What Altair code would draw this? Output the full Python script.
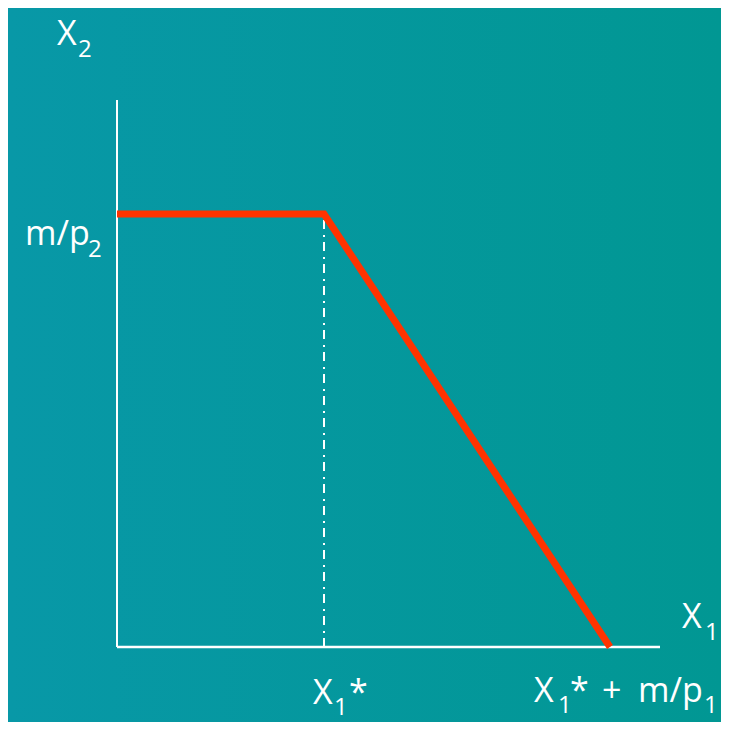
import altair as alt
import pandas as pd

# ---- data (abstract budget-set units) ----
X1_STAR = 207          # X1*
X1_MAX = 493           # X1* + m/p1
M_P2 = 433             # m/p2
AXIS_X_END = 543
AXIS_Y_END = 547

budget_x = [0, X1_STAR, X1_MAX]
budget_y = [M_P2, M_P2, 0]

W, H = 713, 714
XMIN = -109
YMIN = -75

xs = alt.Scale(domain=[XMIN, XMIN + W], nice=False, zero=False)
ys = alt.Scale(domain=[YMIN, YMIN + H], nice=False, zero=False)

FONT = "Open Sans"
WHITE = "#ffffff"
RED = "#ff3300"

def X(field="x"):
    return alt.X(f"{field}:Q", scale=xs, axis=None)

def Y(field="y"):
    return alt.Y(f"{field}:Q", scale=ys, axis=None)

bg = alt.Chart(pd.DataFrame({"a": [0]})).mark_rect(
    color={"gradient": "linear", "x1": 0, "y1": 0, "x2": 1, "y2": 0,
           "stops": [{"offset": 0, "color": "#0898a7"},
                     {"offset": 1, "color": "#019793"}]}
).encode(x=alt.value(0), x2=alt.value(W), y=alt.value(0), y2=alt.value(H))

y_axis = alt.Chart(pd.DataFrame({"x": [0], "y": [0], "y2": [AXIS_Y_END]})).mark_rule(
    color=WHITE, strokeWidth=2).encode(x=X(), y=Y(), y2="y2:Q")
x_axis = alt.Chart(pd.DataFrame({"x": [0], "x2": [AXIS_X_END], "y": [0]})).mark_rule(
    color=WHITE, strokeWidth=2.5).encode(x=X(), x2="x2:Q", y=Y())

guide = alt.Chart(pd.DataFrame({"x": [X1_STAR], "y": [0], "y2": [M_P2]})).mark_rule(
    color=WHITE, strokeWidth=2, strokeDash=[9, 5, 2, 6]).encode(x=X(), y=Y(), y2="y2:Q")

budget = alt.Chart(pd.DataFrame({"x": budget_x, "y": budget_y, "o": [0, 1, 2]})).mark_line(
    color=RED, strokeWidth=7, strokeJoin="miter", strokeCap="butt").encode(
    x=X(), y=Y(), order="o:Q")

def piece(ax, ay, text, dx, dy, size):
    return alt.Chart(pd.DataFrame({"x": [ax], "y": [ay]})).mark_text(
        text=text, dx=dx, dy=dy, fontSize=size, font=FONT, color=WHITE,
        align="left", baseline="alphabetic").encode(x=X(), y=Y())

MAIN, SUB = 34, 24
labels = [
    # X2 (top of vertical axis)
    piece(0, AXIS_Y_END, "X", -60, -55, MAIN),
    piece(0, AXIS_Y_END, "2", -39, -43, SUB),
    # m/p2
    piece(0, M_P2, "m/p", -92, 31, MAIN),
    piece(0, M_P2, "2", -29, 43, SUB),
    # X1*
    piece(X1_STAR, 0, "X", -11, 57, MAIN),
    piece(X1_STAR, 0, "1", 10, 68, SUB),
    piece(X1_STAR, 0, "*", 25, 57, MAIN),
    # X1* + m/p1
    piece(X1_MAX, 0, "X", -76, 55, MAIN),
    piece(X1_MAX, 0, "1", -52, 66, SUB),
    piece(X1_MAX, 0, "*", -40, 55, MAIN),
    piece(X1_MAX, 0, "+", -8, 55, MAIN),
    piece(X1_MAX, 0, "m/p", 28, 55, MAIN),
    piece(X1_MAX, 0, "1", 94, 66, SUB),
    # X1 (end of horizontal axis)
    piece(AXIS_X_END, 0, "X", 22, -19, MAIN),
    piece(AXIS_X_END, 0, "1", 45, -7, SUB),
]

chart = alt.layer(bg, y_axis, x_axis, guide, budget, *labels).properties(
    width=W, height=H, padding=0, autosize=alt.AutoSizeParams(type="none"),
    background="#049799"
).configure_view(stroke=None)

chart.save("out.html", embed_options={"renderer": "svg", "actions": False})
